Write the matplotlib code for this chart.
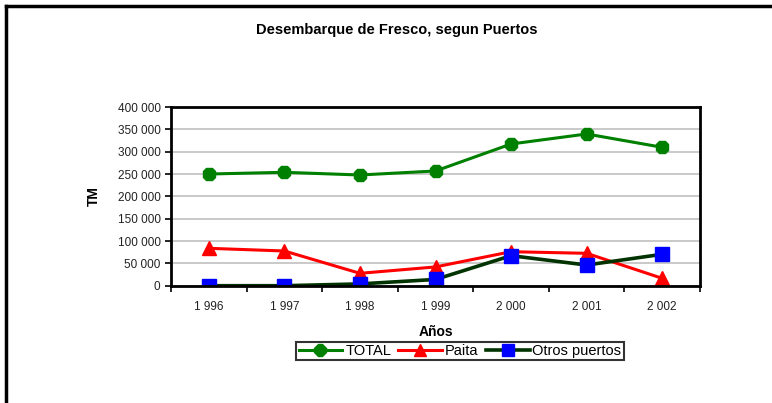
import matplotlib.pyplot as plt
from matplotlib.lines import Line2D
from matplotlib.ticker import FuncFormatter

plt.rcParams['font.family'] = ['Liberation Sans', 'DejaVu Sans']

# data
years = ['1 996', '1 997', '1 998', '1 999', '2 000', '2 001', '2 002']
total = [250000, 253800, 247800, 256800, 317200, 339600, 309800]
paita = [83700, 77700, 27700, 42000, 76100, 72500, 16500]
otros = [0, 0, 4000, 14000, 67200, 46300, 70300]

fig = plt.figure(figsize=(7.72, 4.03), dpi=100)
ax = fig.add_axes([171/772, 1 - 285.7/403, 529/772, 178.7/403])

x = range(len(years))
ax.plot(x, total, color='#008000', lw=2.2, marker='8', ms=10, label='TOTAL')
ax.plot(x, paita, color='#ff0000', lw=2.2, marker='^', ms=10, label='Paita')
ax.plot(x, otros, color='#003300', lw=2.6, marker='s', ms=10,
        mfc='#0000ff', mec='#0000ff', label='Otros puertos')

ax.set_xlim(-0.5, 6.5)
ax.set_ylim(0, 400000)
ax.set_yticks(range(0, 400001, 50000))
ax.yaxis.set_major_formatter(FuncFormatter(lambda v, p: f'{int(v):,}'.replace(',', ' ')))
ax.set_xticks([i + 0.5 for i in range(-1, 7)])
ax.set_xticklabels([])
ax.set_xticks(list(x), minor=True)
ax.set_xticklabels(years, minor=True)
ax.tick_params(axis='x', which='minor', length=0, pad=11, labelsize=8.5, labelcolor='#222222')
ax.tick_params(axis='x', which='major', length=4, width=1.2, direction='out')
ax.tick_params(axis='y', length=4, width=1.2, direction='out', labelsize=8.5, labelcolor='#222222')
ax.grid(axis='y', color='#c0c0c0', lw=1.2)
ax.set_axisbelow(True)
for s in ax.spines.values():
    s.set_linewidth(2)

ax.set_ylabel('TM', fontweight='bold', fontsize=10, labelpad=12)
ax.set_xlabel('Años', fontweight='bold', fontsize=10, labelpad=9)
fig.text(397/772, 1 - 30/403, 'Desembarque de Fresco, segun Puertos',
         ha='center', va='center', fontweight='bold', fontsize=10.5)

leg = fig.legend(loc='center', bbox_to_anchor=(460/772, 1 - 351/403), ncol=3,
                 fontsize=10.5, frameon=True, fancybox=False, edgecolor='black',
                 handlelength=3.0, handletextpad=0.2, columnspacing=0.5,
                 borderpad=0.15, markerscale=0.9)
leg.get_frame().set_linewidth(1.5)

# outer chart border (cut off at right and bottom)
fig.add_artist(Line2D([6/772, 6/772], [0, 1 - 6/403], color='black', lw=2.5))
fig.add_artist(Line2D([6/772, 1], [1 - 6/403, 1 - 6/403], color='black', lw=2.5))

fig.savefig('out.png', dpi=100)
